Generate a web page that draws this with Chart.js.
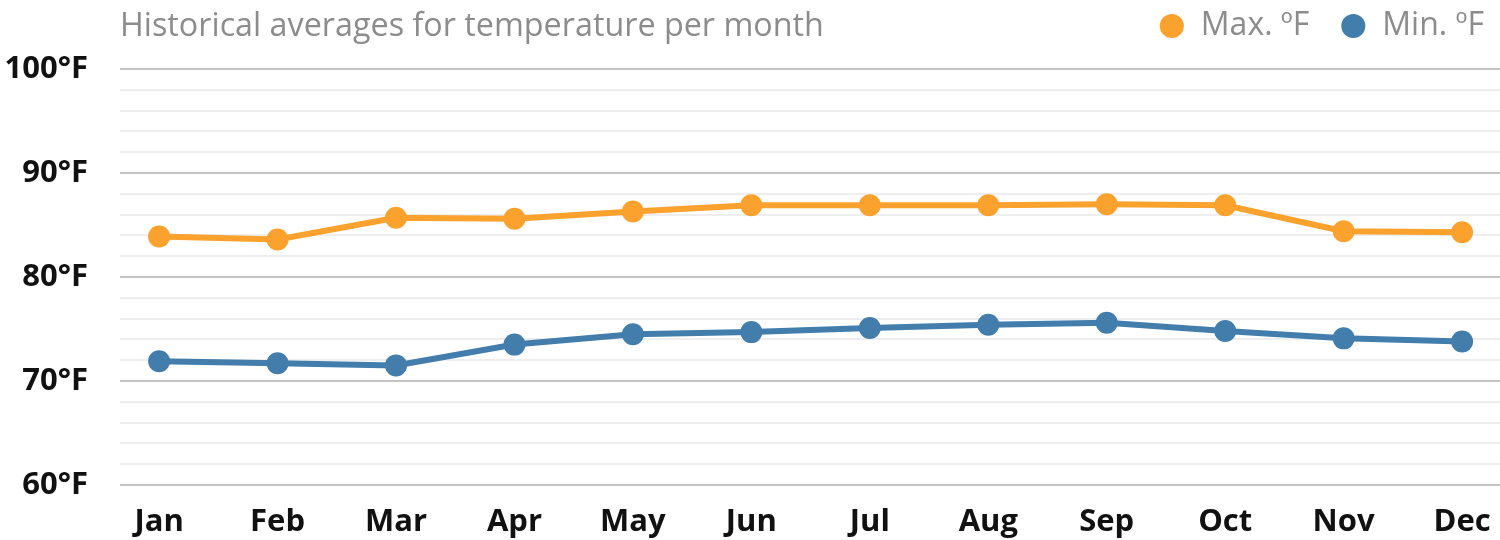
<!DOCTYPE html>
<html>
<head>
<meta charset="utf-8">
<script src="https://cdn.jsdelivr.net/npm/chart.js@4/dist/chart.umd.min.js"></script>
<style>
  body { margin: 0; background: #fff; }
  #wrap { position: relative; width: 1500px; height: 540px; }
  #title {
    position: absolute; left: 120px; top: 1px;
    font-family: "Open Sans", sans-serif; font-size: 32.3px; color: #8c8c8c;
    white-space: nowrap;
  }
</style>
</head>
<body>
<div id="wrap">
  <canvas id="temp_chart"></canvas>
  <div id="title">Historical averages for temperature per month</div>
</div>
<script>
const months = ['Jan', 'Feb', 'Mar', 'Apr', 'May', 'Jun', 'Jul', 'Aug', 'Sep', 'Oct', 'Nov', 'Dec']
const maxTemps = [83.9, 83.6, 85.7, 85.6, 86.3, 86.9, 86.9, 86.9, 87.0, 86.9, 84.4, 84.3]
const minTemps = [71.9, 71.7, 71.5, 73.5, 74.5, 74.7, 75.1, 75.4, 75.6, 74.8, 74.1, 73.8]
const seriesNames = ['Max. ºF', 'Min. ºF']

const orange = 'rgb(250, 161, 46)'
const blue = 'rgb(66, 125, 172)'

function points(values) {
    return values.map(function (v, i) { return { x: i, y: v } })
}

function line(label, values, color) {
    return {
        label: label,
        data: points(values),
        borderColor: color,
        backgroundColor: color,
        pointBackgroundColor: color,
        borderWidth: 6,
        pointRadius: 11,
        pointHoverRadius: 11,
        pointBorderWidth: 0,
        pointStyle: 'circle',
        tension: 0
    }
}

// legend shares its row with the title, so pin its height and nudge it right
const legendFit = {
    id: 'legendFit',
    afterInit(chart) {
        const legend = chart.legend
        const fit = legend.fit
        legend.fit = function () {
            fit.call(this)
            this.height = 90
        }
        const draw = legend.draw
        legend.draw = function () {
            const ctx = this.ctx
            ctx.save()
            ctx.translate(15, 0)
            draw.call(this)
            ctx.restore()
        }
    }
}

const config = {
    type: 'line',
    data: {
        datasets: [
            line(seriesNames[0], maxTemps, orange),
            line(seriesNames[1], minTemps, blue)
        ]
    },
    options: {
        responsive: true,
        maintainAspectRatio: false,
        animation: false,
        layout: { autoPadding: false, padding: { top: -21, right: 0, left: 0, bottom: 0 } },
        plugins: {
            tooltip: { enabled: false },
            legend: {
                position: 'top',
                align: 'end',
                labels: {
                    usePointStyle: true,
                    boxHeight: 17,
                    boxWidth: 26,
                    padding: 31,
                    color: '#8c8c8c',
                    font: { family: 'Open Sans', size: 32 },
                    generateLabels: function (chart) {
                        return Chart.defaults.plugins.legend.labels.generateLabels(chart).map(function (l) {
                            l.lineWidth = 0
                            return l
                        })
                    }
                }
            }
        },
        scales: {
            x: {
                type: 'linear',
                min: -0.33,
                max: 11.32,
                border: { display: false },
                grid: { display: false },
                afterFit: function (scale) {
                    scale.height = 55
                    scale.paddingLeft = 0
                    scale.paddingRight = 0
                },
                ticks: {
                    stepSize: 1,
                    includeBounds: false,
                    autoSkip: false,
                    maxRotation: 0,
                    padding: 11,
                    color: '#111',
                    font: { family: 'Open Sans', size: 31, weight: 'bold' },
                    callback: function (v) { return Number.isInteger(v) ? months[v] : '' }
                }
            },
            y: {
                min: 60,
                max: 100,
                border: { display: false },
                afterFit: function (scale) { scale.width = 120 },
                grid: {
                    drawTicks: false,
                    lineWidth: 2,
                    color: function (ctx) {
                        return ctx.tick && ctx.tick.value % 10 === 0 ? '#c4c4c4' : '#eeeeee'
                    }
                },
                ticks: {
                    stepSize: 2,
                    autoSkip: false,
                    padding: 32,
                    color: '#111',
                    font: { family: 'Open Sans', size: 31, weight: 'bold' },
                    callback: function (v) { return v % 10 === 0 ? v + '°F' : '' }
                }
            }
        }
    },
    plugins: [legendFit]
}

new Chart(document.getElementById('temp_chart'), config)
</script>
</body>
</html>
